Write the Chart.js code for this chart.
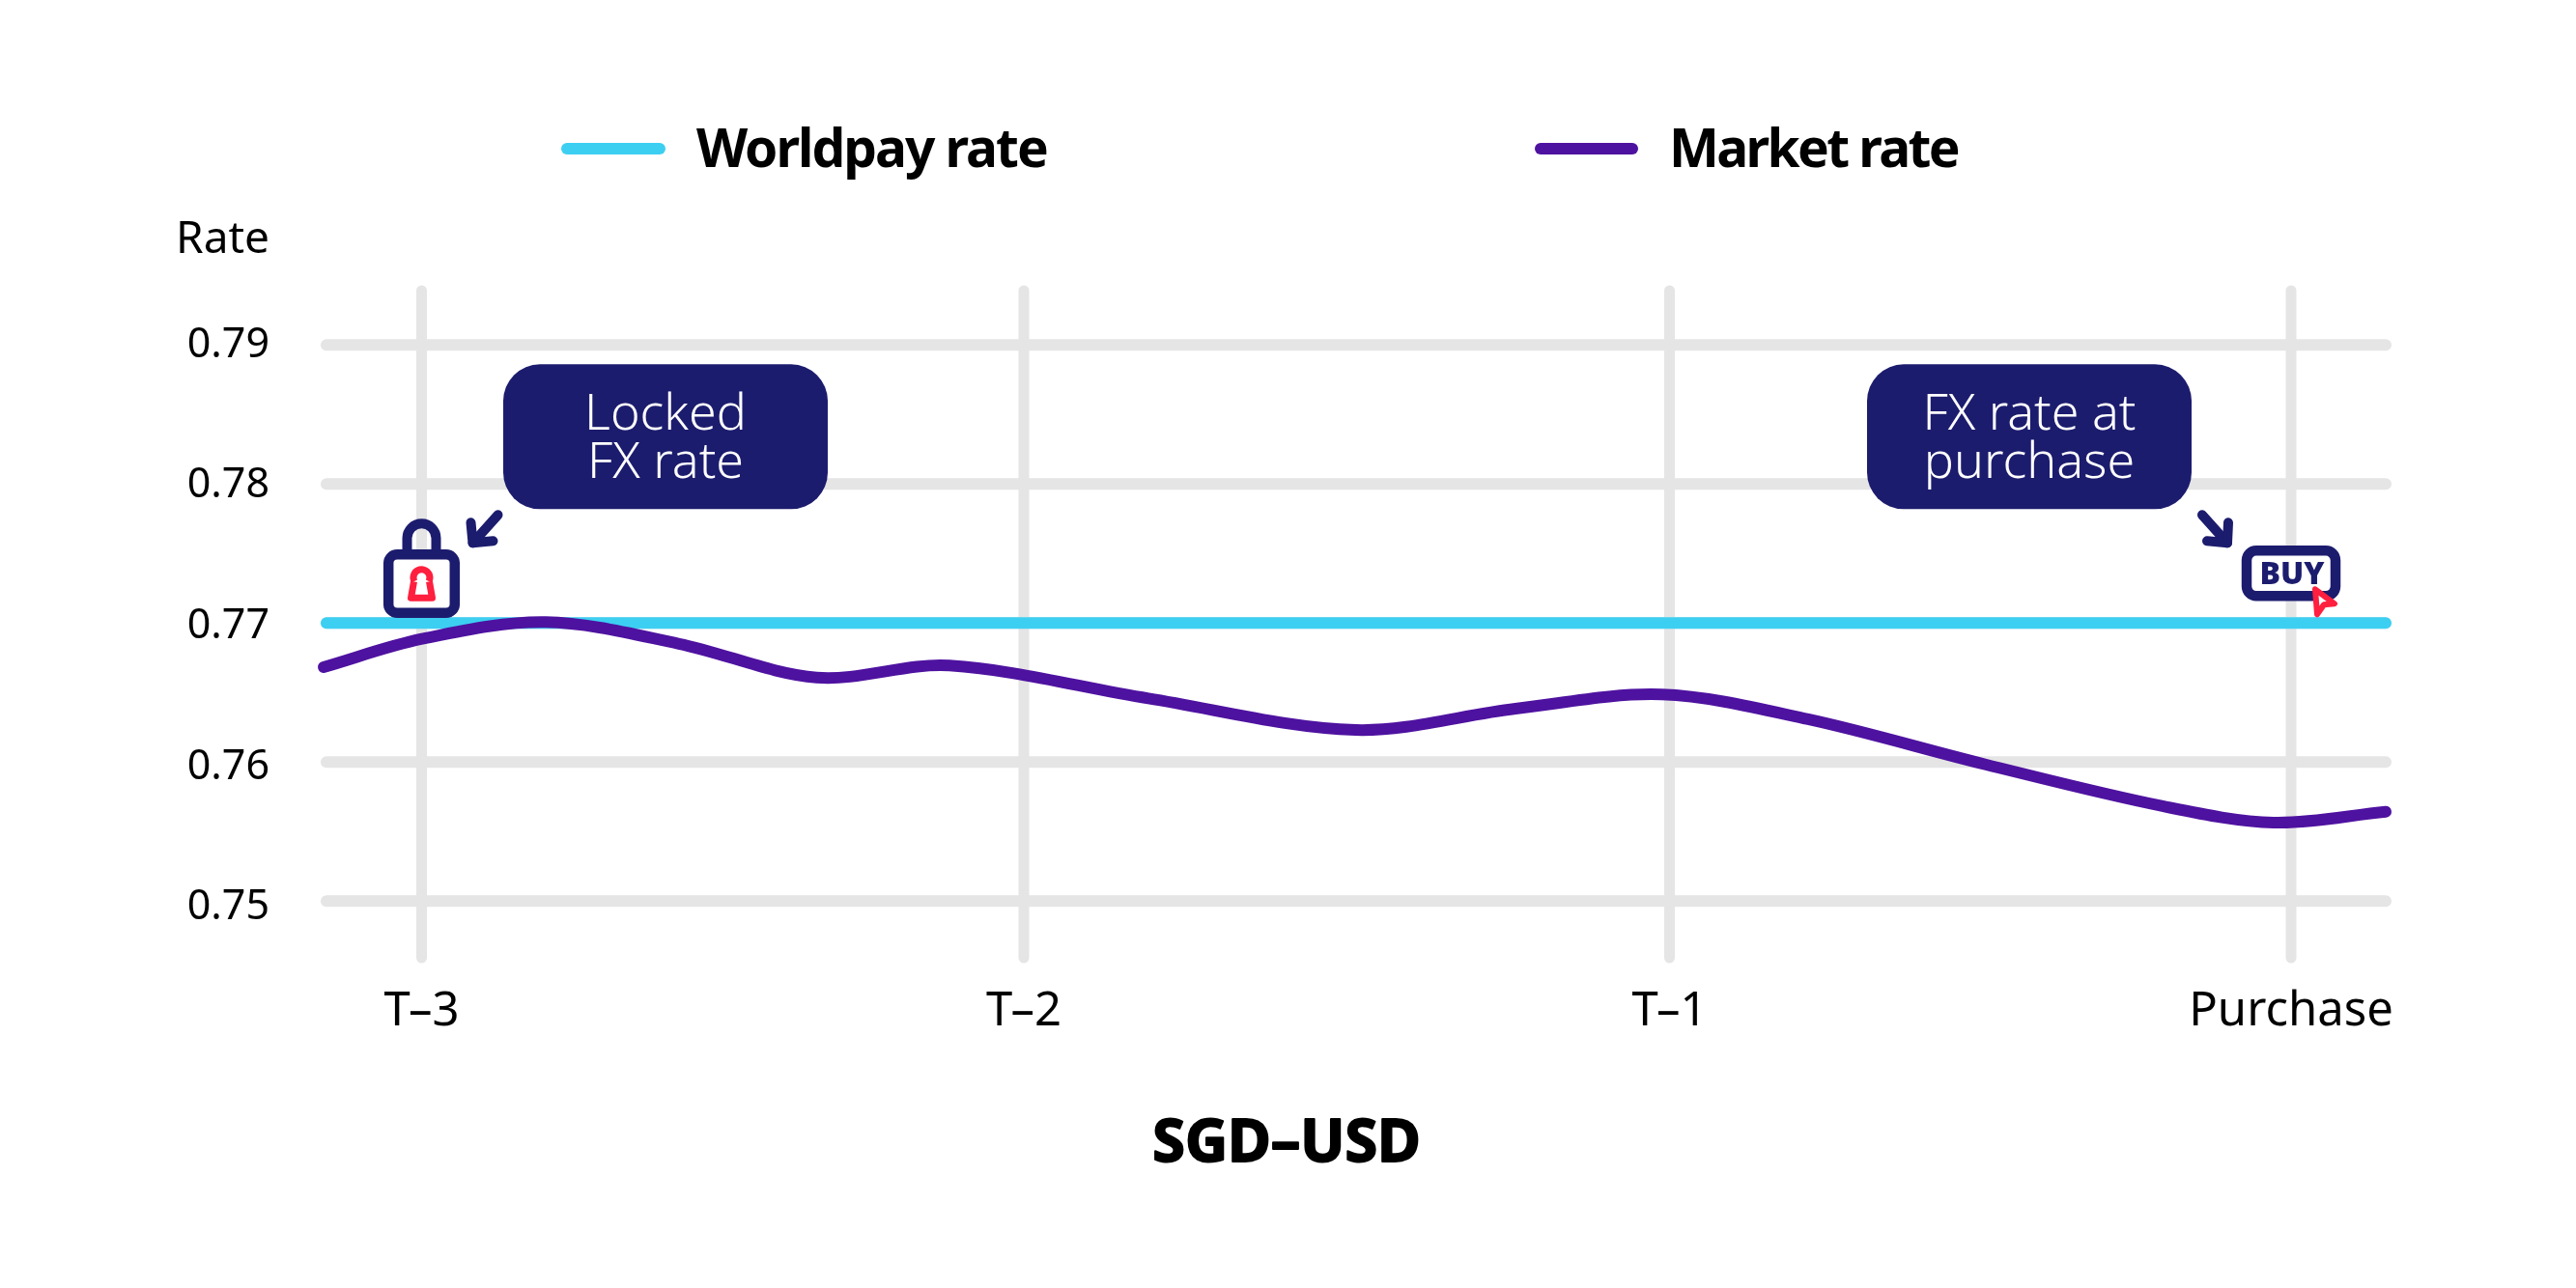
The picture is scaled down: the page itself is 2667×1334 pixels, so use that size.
<!DOCTYPE html>
<html>
<head>
<meta charset="utf-8">
<style>html,body{margin:0;padding:0;background:#fff}canvas{display:block}</style>
<script src="https://cdn.jsdelivr.net/npm/chart.js@4"></script>
</head>
<body>
<canvas id="c" width="2667" height="1334"></canvas>
<script>
const xTickLabels = ['T–3','T–2','T–1','Purchase'];
const xTickValues = [1.065,7.30,13.985,20.42];
const yTickValues = [0.75,0.76,0.77,0.78,0.79];
const marketX = [0.05,1.07,2.35,3.73,5.155,6.53,8.59,10.736,12.39,13.905,15.42,17.255,19.09,20.24,21.40];
const marketY = [.76683,.76886,.77007,.76851,.76608,.76694,.76458,.76231,.76384,.76486,.76308,.75983,.75683,.75565,.75643];
const worldpayX = [0.08,21.40];
const worldpayY = [0.77,0.77];
const legendLabels = ['Worldpay rate','Market rate'];
const NAVY='#1c1c6e', RED='#ff1f3e', CYAN='#3dcff2', PURPLE='#4e12a0', GRID='#e5e5e5';
const FF='"Noto Sans"';

function pts(xs,ys){return xs.map((x,i)=>({x,y:ys[i]}));}
function rr(ctx,x,y,w,h,r){ctx.beginPath();ctx.roundRect(x,y,w,h,r);}

const gridPlugin={id:'roundGrid',beforeDatasetsDraw(ch){
  const {ctx,scales:{x,y},chartArea:a}=ch;
  ctx.save();ctx.lineCap='round';ctx.strokeStyle=GRID;
  ctx.lineWidth=11;
  xTickValues.forEach(v=>{const p=x.getPixelForValue(v);ctx.beginPath();ctx.moveTo(p,a.top+6);ctx.lineTo(p,a.bottom-6);ctx.stroke();});
  ctx.lineWidth=12;
  yTickValues.forEach(v=>{const p=y.getPixelForValue(v);ctx.beginPath();ctx.moveTo(x.getPixelForValue(worldpayX[0]),p);ctx.lineTo(x.getPixelForValue(worldpayX[1]),p);ctx.stroke();});
  ctx.restore();
}};

const decorPlugin={id:'decor',afterDatasetsDraw(ch){
  const {ctx,scales:{x,y}}=ch;
  const ax=x.getPixelForValue(xTickValues[0]), bx=x.getPixelForValue(xTickValues[3]), ry=y.getPixelForValue(0.77);
  ctx.save();
  ctx.textBaseline='alphabetic';
  // legend
  const leg=[[581,689,CYAN,721,-2],[1589,1696,PURPLE,1728,-2.6]];
  leg.forEach((l,i)=>{
    ctx.strokeStyle=l[2];ctx.lineWidth=12;ctx.lineCap='round';
    ctx.beginPath();ctx.moveTo(l[0]+6,154);ctx.lineTo(l[1]-6,154);ctx.stroke();
    ctx.fillStyle='#000';ctx.textAlign='left';ctx.font='bold 55px '+FF;
    ctx.letterSpacing=l[4]+'px';
    ctx.fillText(legendLabels[i],l[3],173);
    ctx.letterSpacing='0px';
  });
  // axis texts
  ctx.fillStyle='#000';ctx.textAlign='right';ctx.font='46px '+FF;
  ctx.fillText('Rate',279,262);
  ctx.textAlign='center';ctx.font='bold 61px '+FF;
  ctx.strokeStyle='#000';ctx.lineWidth=2;ctx.lineJoin='round';
  ctx.fillText('SGD–USD',1332,1203);
  ctx.strokeText('SGD–USD',1332,1203);
  // callouts
  const boxes=[[ax+84.5,['Locked','FX rate']],[bx-439,['FX rate at','purchase']]];
  boxes.forEach(b=>{
    ctx.fillStyle=NAVY;rr(ctx,b[0],ry-268,336,150,38);ctx.fill();
    ctx.fillStyle='#fff';ctx.textAlign='center';ctx.font='300 52px '+FF;
    ctx.fillText(b[1][0],b[0]+168,ry-200);
    ctx.fillText(b[1][1],b[0]+168,ry-150);
  });
  // arrows
  ctx.strokeStyle=NAVY;ctx.lineWidth=10;ctx.lineCap='round';ctx.lineJoin='round';
  ctx.beginPath();ctx.moveTo(ax+79,ry-112);ctx.lineTo(ax+53,ry-83);ctx.stroke();
  ctx.beginPath();ctx.moveTo(ax+51,ry-104);ctx.lineTo(ax+53,ry-83);ctx.lineTo(ax+74,ry-85);ctx.stroke();
  ctx.beginPath();ctx.moveTo(bx-92,ry-112);ctx.lineTo(bx-66,ry-83);ctx.stroke();
  ctx.beginPath();ctx.moveTo(bx-65,ry-104);ctx.lineTo(bx-66,ry-83);ctx.lineTo(bx-87,ry-85);ctx.stroke();
  // lock
  ctx.lineCap='butt';ctx.lineWidth=10;
  ctx.beginPath();ctx.moveTo(ax-15,ry-72);ctx.lineTo(ax-15,ry-88);ctx.arc(ax,ry-88,15,Math.PI,0);ctx.lineTo(ax+15,ry-72);ctx.stroke();
  ctx.lineWidth=10.5;ctx.fillStyle='#fff';
  rr(ctx,ax-34.3,ry-71,68.6,60.5,9);ctx.fill();ctx.stroke();
  ctx.strokeStyle=RED;ctx.lineWidth=7;ctx.lineJoin='round';
  ctx.beginPath();ctx.arc(ax,ry-47,8.5,Math.PI*0.85,Math.PI*0.15);ctx.stroke();
  ctx.beginPath();ctx.moveTo(ax-8,ry-43);ctx.lineTo(ax-11,ry-26);ctx.lineTo(ax+11,ry-26);ctx.lineTo(ax+8,ry-43);ctx.stroke();
  // buy button
  ctx.strokeStyle=NAVY;ctx.lineWidth=10.5;ctx.lineJoin='round';ctx.fillStyle='#fff';
  rr(ctx,bx-46,ry-75,92,47,10);ctx.fill();ctx.stroke();
  ctx.fillStyle=NAVY;ctx.textAlign='center';ctx.font='900 32px '+FF;
  ctx.fillText('BUY',bx+1,ry-40);
  // cursor
  ctx.fillStyle='#fff';ctx.strokeStyle=RED;ctx.lineWidth=6;ctx.lineJoin='round';
  ctx.beginPath();ctx.moveTo(bx+25,ry-35);ctx.lineTo(bx+45,ry-20);ctx.lineTo(bx+34,ry-19);ctx.lineTo(bx+27,ry-9);ctx.closePath();ctx.fill();ctx.stroke();
  ctx.restore();
}};

new Chart(document.getElementById('c').getContext('2d'),{
  type:'line',
  data:{datasets:[
    {label:legendLabels[0],data:pts(worldpayX,worldpayY),borderColor:CYAN,borderWidth:12,borderCapStyle:'round',pointRadius:0,tension:0,clip:false,order:2},
    {label:legendLabels[1],data:pts(marketX,marketY),borderColor:PURPLE,borderWidth:12,borderCapStyle:'round',pointRadius:0,tension:0.33,clip:false,order:1}
  ]},
  options:{
    responsive:false,animation:false,devicePixelRatio:1,
    layout:{padding:{left:0,top:295,right:187,bottom:236}},
    plugins:{legend:{display:false},tooltip:{enabled:false},title:{display:false}},
    scales:{
      x:{type:'linear',min:0,max:21.5,
        grid:{display:false,drawTicks:false},border:{display:false},
        afterBuildTicks(s){s.ticks=xTickValues.map(value=>({value}));},
        afterFit(s){s.height=100;},
        ticks:{autoSkip:false,maxRotation:0,padding:21,color:'#000',font:{family:FF,size:49},
          callback(v){return xTickLabels[xTickValues.indexOf(v)];}}
      },
      y:{type:'linear',display:false,min:0.745507,max:0.794326},
      yLabels:{type:'linear',position:'left',min:0.746018,max:0.794284,
        grid:{display:false,drawTicks:false},border:{display:false},
        afterBuildTicks(s){s.ticks=yTickValues.map(value=>({value}));},
        afterFit(s){s.width=330;},
        ticks:{padding:51,color:'#000',font:{family:FF,size:43},callback(v){return v.toFixed(2);}}
      }
    }
  },
  plugins:[gridPlugin,decorPlugin]
});
</script>
</body>
</html>
